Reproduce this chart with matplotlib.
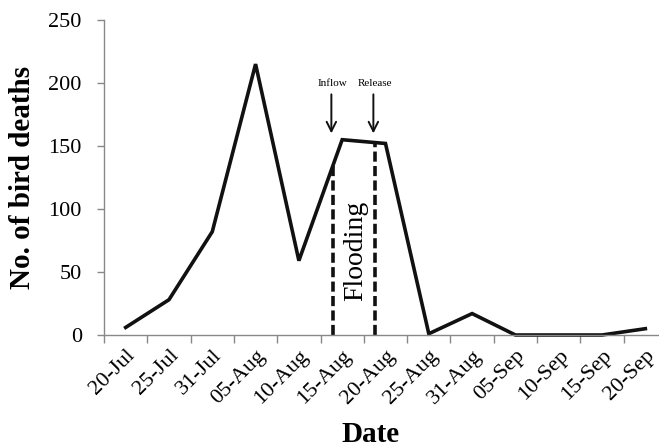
import matplotlib
matplotlib.use("Agg")
import matplotlib.pyplot as plt
import numpy as np

plt.rcParams['font.family'] = ['Liberation Serif', 'DejaVu Serif']

# data
dates = ["20-Jul", "25-Jul", "31-Jul", "05-Aug", "10-Aug", "15-Aug", "20-Aug",
         "25-Aug", "31-Aug", "05-Sep", "10-Sep", "15-Sep", "20-Sep"]
deaths = [6, 28, 82, 215, 59, 155, 152, 1, 17, 0, 0, 0, 5]

# flooding period markers (category positions)
inflow_pos = 4.78
release_pos = 5.75

x = np.arange(len(dates))

fig = plt.figure(figsize=(6.59, 4.47), dpi=100)
ax = fig.add_axes([104/659, 112/447, 563/659, 315/447])

ax.plot(x, deaths, color="#111111", lw=2.6, solid_joinstyle="miter", clip_on=False)

# dashed flooding lines up to the curve
for p in [inflow_pos, release_pos]:
    top = np.interp(p, x, deaths)
    ax.plot([p, p], [0, top], color="#111111", lw=2.6, ls=(0, (2.8, 1.2)))

ax.text((inflow_pos + release_pos) / 2 + 0.05, 67, "Flooding", rotation=90,
        ha="center", va="center", fontsize=20)

# arrows
for p, lab in [(inflow_pos, "Inflow"), (release_pos, "Release")]:
    ax.annotate("", xy=(p - 0.03, 160), xytext=(p - 0.03, 191),
                arrowprops=dict(arrowstyle="->", color="#111111", lw=1.4,
                                mutation_scale=17, shrinkA=0, shrinkB=0))
    ax.text(p, 196, lab, ha="center", va="bottom", fontsize=8)

ax.set_xlim(-0.5, 12.5)
ax.set_ylim(0, 250)
ax.set_yticks([0, 50, 100, 150, 200, 250])
ax.set_xticks(np.arange(-0.5, 12.5, 1.0), minor=False)
ax.set_xticklabels([])
ax.set_xticks(x, minor=True)
ax.set_xticklabels(dates, minor=True, rotation=45, ha="right", va="top",
                   rotation_mode="anchor", fontsize=16)
ax.tick_params(axis="x", which="minor", length=0, pad=8)
ax.tick_params(axis="x", which="major", length=6, color="#888888", width=1)
ax.tick_params(axis="y", length=5, color="#888888", width=1, labelsize=16, pad=11)

for s in ["top", "right"]:
    ax.spines[s].set_visible(False)
for s in ["left", "bottom"]:
    ax.spines[s].set_color("#888888")
    ax.spines[s].set_linewidth(1)

ax.set_ylabel("No. of bird deaths", fontsize=21, fontweight="bold")
ax.yaxis.set_label_coords(-68/563, 0.5)
fig.text(370/659, 1 - 434/447, "Date", ha="center", va="center",
         fontsize=21, fontweight="bold")

fig.savefig("out.png", dpi=100)
